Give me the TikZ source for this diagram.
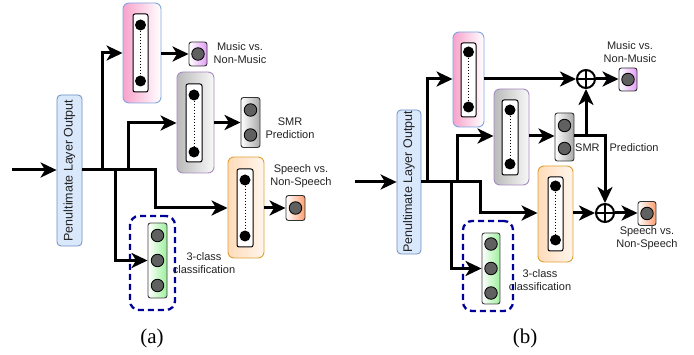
\documentclass[tikz,border=0pt]{standalone}
\usepackage{fontspec}
\setmainfont{Liberation Serif}
\setsansfont{Liberation Sans}
\usetikzlibrary{arrows.meta}

\definecolor{penfill}{HTML}{DAE8FC}
\definecolor{pendraw}{HTML}{6C8EBF}
\definecolor{pinkL}{HTML}{F8A2CB}
\definecolor{pinkdraw}{HTML}{7EA6E0}
\definecolor{greyL}{HTML}{BABABA}
\definecolor{greyR}{HTML}{F8F8F8}
\definecolor{greydraw}{HTML}{A88BC0}
\definecolor{orangeL}{HTML}{FFDCBA}
\definecolor{orangeR}{HTML}{FFF5EC}
\definecolor{orangedraw}{HTML}{E0A030}
\definecolor{greenR}{HTML}{9CF09C}
\definecolor{musicR}{HTML}{E39CF8}
\definecolor{smrR}{HTML}{A8A8A8}
\definecolor{speechR}{HTML}{FF9E70}
\definecolor{navy}{HTML}{000099}
\definecolor{unitgrey}{HTML}{606060}
\definecolor{txt}{HTML}{222222}

\tikzset{
  conn/.style={line width=3pt, black},
  arr/.style={conn, -{Stealth[length=16pt,width=15pt,inset=4.5pt]}},
  penbox/.style={draw=pendraw, fill=penfill, rounded corners=4pt, line width=0.8pt,
    inner sep=0pt, minimum width=#1},
  layerbox/.style={rounded corners=6pt, line width=0.9pt, inner sep=0pt},
  innerbox/.style={draw=black, fill=white, rounded corners=2pt, line width=1pt,
    inner sep=0pt},
  outbox/.style={draw=black!80, rounded corners=2.5pt, line width=0.9pt, inner sep=0pt},
  unit/.style={circle, draw=black, fill=unitgrey, line width=0.8pt,
    minimum size=12.5pt, inner sep=0pt},
  dotnode/.style={circle, fill=black, minimum size=11pt, inner sep=0pt},
  dotline/.style={dotted, line width=1pt, black},
  oplus/.style={circle, draw=black, line width=2pt, minimum size=18pt, inner sep=0pt},
  groupbox/.style={draw=navy, line width=2.3pt, dash pattern=on 6pt off 4pt,
    rounded corners=9pt, inner sep=0pt},
  lab/.style={font=\sffamily\fontsize{11}{13}\selectfont, text=txt, align=center,
    inner sep=0pt},
  captext/.style={font=\fontsize{21}{24}\selectfont, inner sep=0pt}
}

\begin{document}
\begin{tikzpicture}[x=1pt, y=-1pt]
\useasboundingbox (0,0) rectangle (694,355);

% ================= (a) separate heads =================
\node[penbox=25pt, minimum height=151pt] (pen_a) at (69.5,170.5) {};
\node[rotate=90, font=\sffamily\fontsize{12.5}{14}\selectfont, text=txt] (pentxt_a)
  at (pen_a.center) {Penultimate Layer Output};
\coordinate (in_a) at (12,170);
\draw[arr] (in_a) -- (pen_a.west |- in_a);

% music branch
\node[layerbox, draw=pinkdraw, left color=pinkL, right color=white,
  minimum width=38pt, minimum height=100pt] (pink_a) at (142,53) {};
\node[innerbox, minimum width=15pt, minimum height=78pt] (pinkin_a) at (140.5,53) {};
\node[dotnode] (pd1_a) at (140.5,25) {};
\node[dotnode] (pd2_a) at (140.5,81) {};
\draw[dotline] (pd1_a) -- (pd2_a);
\node[outbox, left color=white, right color=musicR,
  minimum width=18pt, minimum height=24pt] (music_a) at (198,54) {};
\node[unit] (mu_a) at (music_a.center) {};
\node[lab] (musiclab_a) at (240,53) {Music vs.\\Non-Music};

% SMR branch
\node[layerbox, draw=greydraw, left color=greyL, right color=greyR,
  minimum width=37pt, minimum height=101pt] (grey_a) at (195.5,122.5) {};
\node[innerbox, minimum width=16pt, minimum height=78pt] (greyin_a) at (194,123) {};
\node[dotnode] (gd1_a) at (194,95) {};
\node[dotnode] (gd2_a) at (194,152) {};
\draw[dotline] (gd1_a) -- (gd2_a);
\node[outbox, left color=white, right color=smrR,
  minimum width=19pt, minimum height=50pt] (smr_a) at (250.5,122.5) {};
\node[unit] (s1_a) at (250.5,110) {};
\node[unit] (s2_a) at (250.5,135) {};
\node[lab] (smrlab_a) at (290,128.5) {SMR\\Prediction};

% speech branch
\node[layerbox, draw=orangedraw, left color=orangeL, right color=orangeR,
  minimum width=36pt, minimum height=101pt] (orange_a) at (246,207.5) {};
\node[innerbox, minimum width=16pt, minimum height=78pt] (orangein_a) at (245,208) {};
\node[dotnode] (od1_a) at (245,180) {};
\node[dotnode] (od2_a) at (245,236) {};
\draw[dotline] (od1_a) -- (od2_a);
\node[outbox, left color=white, right color=speechR,
  minimum width=19pt, minimum height=25pt] (speech_a) at (295.5,208) {};
\node[unit] (sp_a) at (speech_a.center) {};
\node[lab] (speechlab_a) at (301,176.5) {Speech vs.\\Non-Speech};

% 3-class branch
\node[groupbox, minimum width=45pt, minimum height=94pt] (grp_a) at (152.5,263) {};
\node[outbox, draw=black!75, left color=white, right color=greenR,
  minimum width=19pt, minimum height=75pt] (green_a) at (157.5,260.5) {};
\node[unit] (c1_a) at (157.5,235.5) {};
\node[unit] (c2_a) at (157.5,260.5) {};
\node[unit] (c3_a) at (157.5,285.5) {};
\node[lab] (clslab_a) at (204,263.5) {3-class\\classification};

% connectors (a)
\draw[arr] (pen_a.east |- in_a) -- (155,170) -- (155,208) -- (orange_a.west |- 0,208);
\draw[arr] (102,170) -- (102,53) -- (pink_a.west |- 0,53);
\draw[arr] (128,170) -- (128,123) -- (grey_a.west |- 0,123);
\draw[arr] (115,170) -- (115,260.5) -- (green_a.west);
\draw[arr] (pink_a.east |- 0,54) -- (music_a.west);
\draw[arr] (grey_a.east |- 0,122.5) -- (smr_a.west);
\draw[arr] (orange_a.east |- 0,208) -- (speech_a.west);

\node[captext] (cap_a) at (152,338) {(a)};

% ================= (b) SMR-assisted heads =================
\node[penbox=24pt, minimum height=144pt] (pen_b) at (409,182) {};
\node[rotate=90, font=\sffamily\fontsize{12.5}{14}\selectfont, text=txt] (pentxt_b)
  at (pen_b.center) {Penultimate Layer Output};
\coordinate (in_b) at (355,182);
\draw[arr] (in_b) -- (pen_b.west |- in_b);

% music branch
\node[layerbox, draw=pinkdraw, left color=pinkL, right color=white,
  minimum width=31pt, minimum height=95pt] (pink_b) at (468.5,79.5) {};
\node[innerbox, minimum width=15pt, minimum height=74pt] (pinkin_b) at (468.5,80) {};
\node[dotnode] (pd1_b) at (468.5,52) {};
\node[dotnode] (pd2_b) at (468.5,107) {};
\draw[dotline] (pd1_b) -- (pd2_b);
\node[oplus] (add1) at (586,79) {};
\draw[line width=2pt] (add1.north) -- (add1.south) (add1.west) -- (add1.east);
\node[outbox, left color=white, right color=musicR,
  minimum width=18pt, minimum height=23pt] (music_b) at (628,79.5) {};
\node[unit] (mu_b) at (music_b.center) {};
\node[lab] (musiclab_b) at (630,52.5) {Music vs.\\Non-Music};

% SMR branch
\node[layerbox, draw=greydraw, left color=greyL, right color=greyR,
  minimum width=35pt, minimum height=96pt] (grey_b) at (511.5,137) {};
\node[innerbox, minimum width=16pt, minimum height=75pt] (greyin_b) at (510,137.5) {};
\node[dotnode] (gd1_b) at (510,110) {};
\node[dotnode] (gd2_b) at (510,164) {};
\draw[dotline] (gd1_b) -- (gd2_b);
\node[outbox, left color=white, right color=smrR,
  minimum width=19pt, minimum height=48pt] (smr_b) at (564.5,137) {};
\node[unit] (s1_b) at (564.5,125.5) {};
\node[unit] (s2_b) at (564.5,148.5) {};
\node[lab, anchor=west] (smrlab_b) at (575,148) {SMR\hspace{10pt}Prediction};

% speech branch
\node[layerbox, draw=orangedraw, left color=orangeL, right color=orangeR,
  minimum width=35pt, minimum height=96pt] (orange_b) at (555.5,214) {};
\node[innerbox, minimum width=15pt, minimum height=74pt] (orangein_b) at (555.5,214) {};
\node[dotnode] (od1_b) at (555.5,186) {};
\node[dotnode] (od2_b) at (555.5,240) {};
\draw[dotline] (od1_b) -- (od2_b);
\node[oplus] (add2) at (605,213) {};
\draw[line width=2pt] (add2.north) -- (add2.south) (add2.west) -- (add2.east);
\node[outbox, left color=white, right color=speechR,
  minimum width=18pt, minimum height=24pt] (speech_b) at (647,213.5) {};
\node[unit] (sp_b) at (speech_b.center) {};
\node[lab] (speechlab_b) at (647,238.5) {Speech vs.\\Non-Speech};

% 3-class branch
\node[groupbox, minimum width=50pt, minimum height=90pt] (grp_b) at (488,266) {};
\node[outbox, draw=black!75, left color=white, right color=greenR,
  minimum width=18pt, minimum height=71pt] (green_b) at (491,268.5) {};
\node[unit] (c1_b) at (491,244) {};
\node[unit] (c2_b) at (491,268.5) {};
\node[unit] (c3_b) at (491,293) {};
\node[lab] (clslab_b) at (540,280) {3-class\\classification};

% connectors (b)
\coordinate (jup) at (586,136);
\coordinate (jdown) at (605,136);
\draw[arr] (pen_b.east |- in_b) -- (480,182) -- (480,213) -- (orange_b.west |- 0,213);
\draw[arr] (427,182) -- (427,79) -- (pink_b.west |- 0,79);
\draw[arr] (457,182) -- (457,136) -- (grey_b.west |- 0,136);
\draw[arr] (451,182) -- (451,268.5) -- (green_b.west);
\draw[arr] (pink_b.east |- 0,79) -- (add1.west);
\draw[arr] (add1.east) -- (music_b.west |- add1);
\draw[arr] (grey_b.east |- 0,136) -- (smr_b.west |- 0,136);
\draw[arr] (smr_b.east |- jdown) -- (jdown) -- (add2.north);
\draw[arr] (jup) -- (add1.south);
\draw[arr] (orange_b.east |- 0,213) -- (add2.west);
\draw[arr] (add2.east) -- (speech_b.west |- add2);

\node[captext] (cap_b) at (525,338) {(b)};
\end{tikzpicture}
\end{document}
